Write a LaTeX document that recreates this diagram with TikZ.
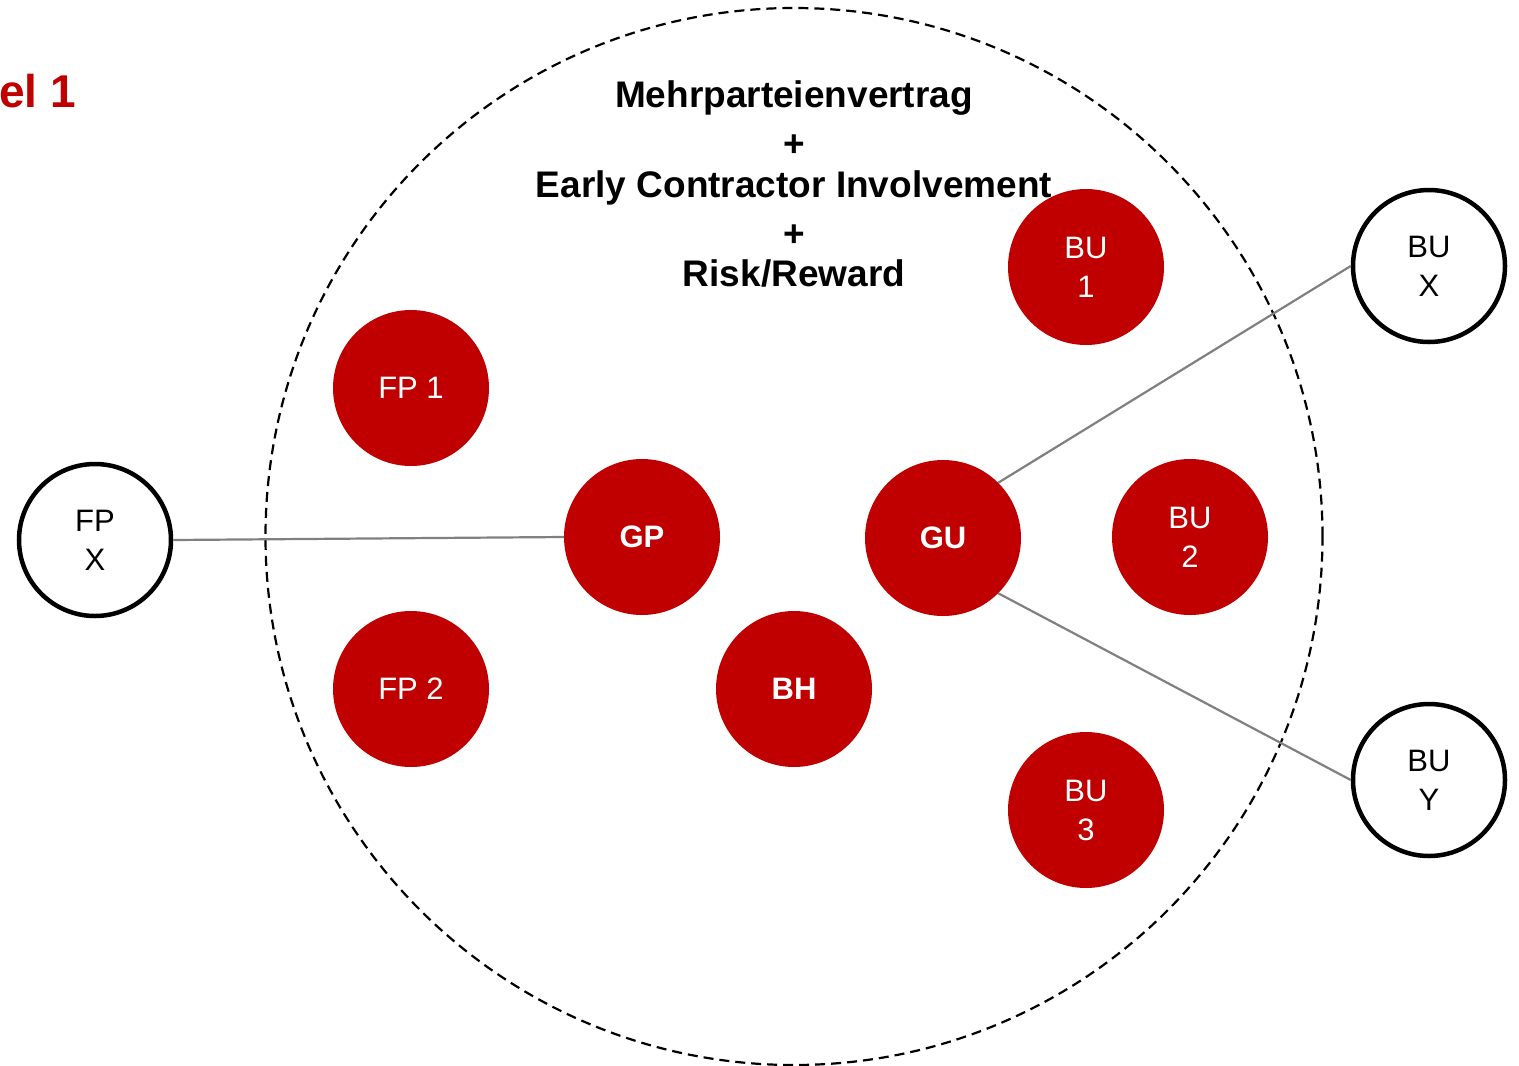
\documentclass[tikz,border=0pt]{standalone}
\usepackage{fontspec}
\setmainfont{Liberation Sans}
\definecolor{dred}{HTML}{C00000}
\definecolor{lgray}{HTML}{808080}
\begin{document}
\begin{tikzpicture}[x=1pt,y=-1pt,
  redc/.style={circle,fill=dred,minimum size=156pt,inner sep=0pt,text=white,align=center,font=\fontsize{31}{39}\selectfont},
  redb/.style={redc,font=\fontsize{31}{39}\selectfont\bfseries},
  whc/.style={circle,draw=black,line width=4.5pt,fill=white,minimum size=152pt,inner sep=0pt,align=center,font=\fontsize{31}{39}\selectfont},
  conn/.style={draw=lgray,line width=2.2pt},
  title/.style={anchor=base,font=\fontsize{37}{44}\selectfont\bfseries}]
\path[use as bounding box,fill=white] (0,0) rectangle (1519,1066);
\draw[line width=2.2pt,dash pattern=on 10pt off 6pt] (794,536.5) circle[radius=528.5pt];
\node[anchor=base east,text=dred,font=\fontsize{46}{50}\selectfont\bfseries,inner sep=0pt] (mod) at (76,107) {el 1};
\node[whc] (FPX) at (95,540) {FP\\X};
\node[whc] (BUX) at (1429,266) {BU\\X};
\node[whc] (BUY) at (1429,780) {BU\\Y};
\node[redc] (FP1) at (411,388) {FP 1};
\node[redc] (FP2) at (411,689) {FP 2};
\node[redb] (GP) at (642,537) {GP};
\node[redb] (BH) at (794,689) {BH};
\node[redb] (GU) at (943,538) {GU};
\node[redc] (BU1) at (1086,267) {BU\\1};
\node[redc] (BU2) at (1190,537) {BU\\2};
\node[redc] (BU3) at (1086,810) {BU\\3};
\draw[conn] (FPX.east) -- (GP.west);
\draw[conn] (GU.north east) -- (BUX.west);
\draw[conn] (GU.south east) -- (BUY.west);
\node[title] (t1) at (794,107) {Mehrparteienvertrag};
\node[title] (t2) at (794,156) {+};
\node[title] (t3) at (794,197) {Early Contractor Involvement};
\node[title] (t4) at (794,246) {+};
\node[title] (t5) at (794,286) {Risk/Reward};
\end{tikzpicture}
\end{document}
